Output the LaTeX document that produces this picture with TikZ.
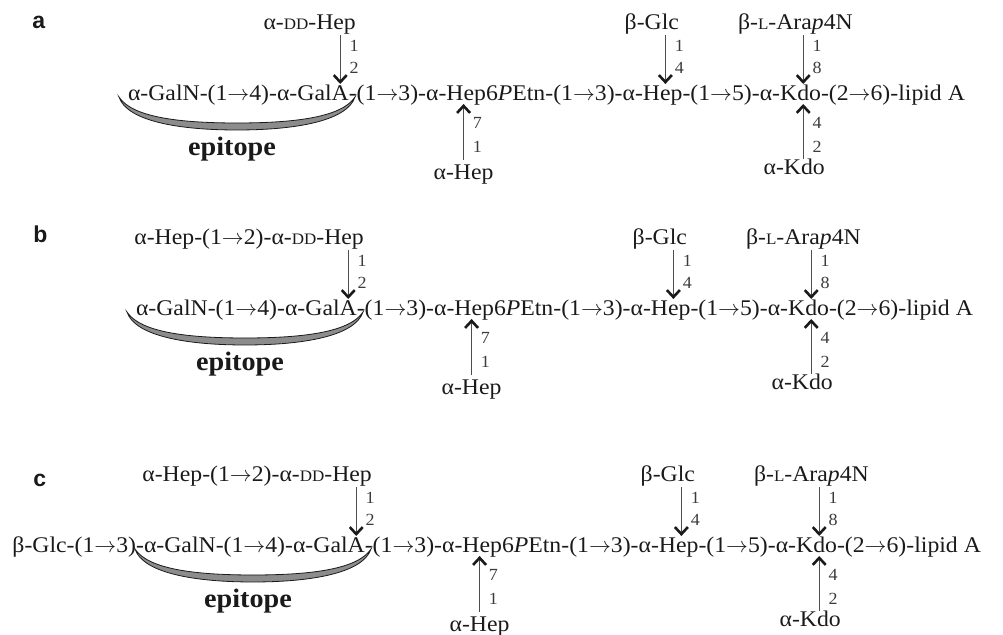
\documentclass[tikz,border=0pt]{standalone}
\usepackage{fontspec}
\setmainfont{Liberation Serif}[FakeStretch=1.06]
\newfontfamily\panelfont{Liberation Sans}
\usetikzlibrary{arrows.meta,positioning}
\definecolor{ink}{HTML}{1A1A1A}
\definecolor{stem}{HTML}{4D4D4D}
\definecolor{band}{HTML}{8C8C8C}
\newcommand{\fakesc}[1]{{\fontsize{8}{9}\selectfont #1}}
\newcommand{\glyarrow}{$\rightarrow$}

% core oligosaccharide: #1 prefix, #2 origin (start of alpha-GalN), #3 residue on GalA
\newcommand{\coreos}[3]{%
\begin{scope}[shift={#2}]
  % main chain, cut where the branches join
  \node[chain] (#1n1) at (0,0) {α-GalN-(1\glyarrow4)-α-Gal};
  \node[seg,base right=0pt of #1n1] (#1n2) {A};
  \node[seg,base right=0pt of #1n2] (#1n3) {-(1\glyarrow3)-α-H};
  \node[seg,base right=0pt of #1n3] (#1n4) {ep6\textit{P}Etn-(1\glyarrow3)-α-H};
  \node[seg,base right=0pt of #1n4] (#1n5) {e};
  \node[seg,base right=0pt of #1n5] (#1n6) {p-(1\glyarrow5)-α-K};
  \node[seg,base right=0pt of #1n6] (#1n7) {d};
  \node[seg,base right=0pt of #1n7] (#1n8) {o-(2\glyarrow6)-lipid~A};
  \coordinate (#1galA) at (#1n2.base |- 0,-17);
  \coordinate (#1hepI) at (#1n4.base west |- 0,3);
  \coordinate (#1hepII) at (#1n5.base |- 0,-17);
  \coordinate (#1kdoT) at (#1n7.base |- 0,-17);
  \coordinate (#1kdoB) at (#1n7.base |- 0,3);
  % branches
  \node[sugar,anchor=base east,xshift=8pt] (#1dd) at (#1galA |- 0,-71) {#3};
  \node[sugar,anchor=base east,xshift=7pt] (#1glc) at (#1hepII |- 0,-71) {β-Glc};
  \node[sugar,anchor=base east,xshift=25pt] (#1ara) at (#1kdoT |- 0,-71) {β-\fakesc{L}-Ara\textit{p}4N};
  \node[sugar,anchor=base,inner ysep=2.5pt] (#1hep) at (#1hepI |- 0,79) {α-Hep};
  \node[sugar,anchor=base east,xshift=11pt] (#1kdo) at (#1kdoB |- 0,74) {α-Kdo};
  \draw[link] (#1dd.south -| #1galA) -- (#1galA);
  \draw[link] (#1glc.south -| #1hepII) -- (#1hepII);
  \draw[link] (#1ara.south -| #1kdoT) -- (#1kdoT);
  \draw[link] (#1hep.north -| #1hepI) -- (#1hepI);
  \draw[link] (#1kdo.north -| #1kdoB) -- (#1kdoB);
  % linkage positions
  \node[num] (#1ga) at (#1galA |- 0,-55) {1};
  \node[num] (#1gb) at (#1galA |- 0,-33) {2};
  \node[num] (#1ha) at (#1hepI |- 0,22) {7};
  \node[num] (#1hb) at (#1hepI |- 0,46) {1};
  \node[num] (#1ca) at (#1hepII |- 0,-55) {1};
  \node[num] (#1cb) at (#1hepII |- 0,-33) {4};
  \node[num] (#1aa) at (#1kdoT |- 0,-55) {1};
  \node[num] (#1ab) at (#1kdoT |- 0,-33) {8};
  \node[num] (#1ka) at (#1kdoB |- 0,22) {4};
  \node[num] (#1kb) at (#1kdoB |- 0,46) {2};
  % epitope bracket
  \path[crescent] (-9,-4) .. controls (-1,20) and (50,29) .. (109,29)
    .. controls (168,29) and (219,20) .. (227,-4)
    .. controls (214,16) and (168,22) .. (109,22)
    .. controls (50,22) and (4,16) .. (-9,-4) -- cycle;
  \node[epi] (#1epi) at (104,55) {epitope};
\end{scope}}

\begin{document}
\begin{tikzpicture}[x=0.5pt,y=-0.5pt,font=\fontsize{11.2}{13}\selectfont,text=ink,
  chain/.style={inner sep=0pt,outer sep=0pt,anchor=base west},
  seg/.style={inner sep=0pt,outer sep=0pt},
  sugar/.style={inner sep=0pt},
  num/.style={inner sep=0pt,anchor=west,xshift=4.5pt,text=ink!85,font=\fontsize{8.5}{9}\selectfont},
  link/.style={draw=stem,line width=0.6pt,
    -{Straight Barb[length=3.5pt,width=6.5pt,line width=1.3pt,color=ink]}},
  crescent/.style={draw=ink,line width=0.4pt,fill=band},
  epi/.style={inner sep=0pt,anchor=base,font=\fontsize{13.3}{16}\selectfont\bfseries},
  panel/.style={inner sep=0pt,anchor=base west,font=\panelfont\bfseries\fontsize{11.5}{13}\selectfont}]
\useasboundingbox (0,0) rectangle (1003,635);

\node[panel] (labA) at (32,29) {a};
\coreos{a}{(128,101)}{α-\fakesc{DD}-Hep}

\node[panel] (labB) at (33,243) {b};
\coreos{b}{(136,316)}{α-Hep-(1\glyarrow2)-α-\fakesc{DD}-Hep}

\node[panel] (labC) at (33,487) {c};
\coreos{c}{(144,553)}{α-Hep-(1\glyarrow2)-α-\fakesc{DD}-Hep}
\node[chain,anchor=base east] (cglc) at (cn1.base west) {β-Glc-(1\glyarrow3)-};
\end{tikzpicture}
\end{document}
